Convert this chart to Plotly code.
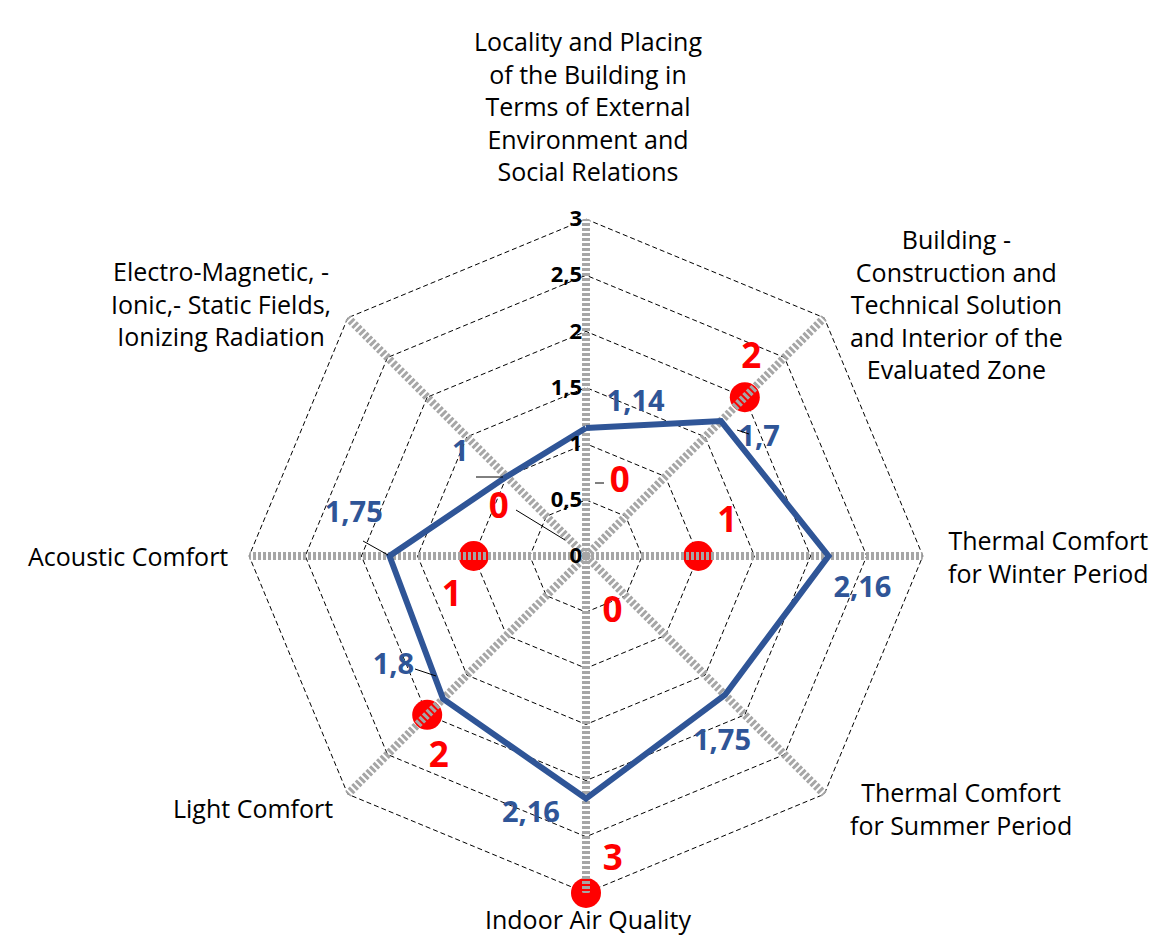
import plotly.graph_objects as go

categories = [
    "Locality and Placing<br>of the Building in<br>Terms of External<br>Environment and<br>Social Relations",
    "Building -<br>Construction and<br>Technical Solution<br>and Interior of the<br>Evaluated Zone",
    "Thermal Comfort<br>for Winter Period",
    "Thermal Comfort<br>for Summer Period",
    "Indoor Air Quality",
    "Light Comfort",
    "Acoustic Comfort",
    "Electro-Magnetic, -<br>Ionic,- Static Fields,<br>Ionizing Radiation",
]
blue_values = [1.14, 1.7, 2.16, 1.75, 2.16, 1.8, 1.75, 1]
red_values = [0, 2, 1, 0, 3, 2, 1, 0]
r_max = 3

# label placement (r, theta deg clockwise from top), layout only
blue_label_r = [1.43, 1.86, 2.48, 2.06, 2.36, 1.98, 2.10, 1.44]
blue_label_t = [18, 56, 97, 144, 192, 240, 280, 309]
red_label_r = [0.71, 2.29, 1.29, 0.56, 2.73, 2.23, 1.25, 0.88]
red_label_t = [25, 40, 77, 155, 175, 216, 253, 298]
# category label centres in pixels
cat_label_px = [(580, 98), (948, 296), (1040, 548), (953, 800),
                (580, 911), (245, 800), (120, 548), (213, 296)]
# thin leader lines (pixels)
leaders = [(508, 502, 557, 532), (468, 469, 495, 469), (355, 533, 380, 547),
           (729, 422, 741, 426), (407, 661, 428, 668), (587, 475, 596, 475)]

W, H = 1158, 938
blue = "#2f5597"
red = "#ff0000"
font = "Open Sans"
domain = dict(x=[240 / W, 916 / W], y=[52 / H, 728 / H])


def fmt(v):
    return f"{v:g}".replace(".", ",")


fig = go.Figure()

# red markers sit under the grey spokes
nz = [(c, v) for c, v in zip(categories, red_values) if v != 0]
fig.add_trace(go.Scatterpolar(
    r=[v for c, v in nz], theta=[c for c, v in nz], mode="markers",
    marker=dict(color=red, size=30),
    hoverinfo="skip", showlegend=False,
))

spoke_r, spoke_t = [], []
for c in categories:
    spoke_r += [0, r_max, None]
    spoke_t += [c, c, None]
fig.add_trace(go.Scatterpolar(
    r=spoke_r, theta=spoke_t, mode="lines",
    line=dict(color="#a6a6a6", width=8, dash="3px,2px"),
    hoverinfo="skip", showlegend=False,
))

z = [(c, v) for c, v in zip(categories, red_values) if v == 0]
fig.add_trace(go.Scatterpolar(
    r=[v for c, v in z], theta=[c for c, v in z], mode="markers",
    marker=dict(color=red, size=28, symbol="octagon-open-dot", line=dict(width=2, color=red)),
    hoverinfo="skip", showlegend=False,
))

fig.add_trace(go.Scatterpolar(
    r=blue_values + blue_values[:1], theta=categories + categories[:1], mode="lines",
    line=dict(color=blue, width=6),
    showlegend=False,
))

# value labels on an overlaid numeric polar
fig.add_trace(go.Scatterpolar(
    r=blue_label_r, theta=blue_label_t, mode="text", subplot="polar2",
    text=[fmt(v) for v in blue_values],
    textfont=dict(family=font, size=29, color=blue, weight="bold"),
    hoverinfo="skip", showlegend=False,
))
fig.add_trace(go.Scatterpolar(
    r=red_label_r, theta=red_label_t, mode="text", subplot="polar2",
    text=[fmt(v) for v in red_values],
    textfont=dict(family=font, size=35, color=red, weight="bold"),
    hoverinfo="skip", showlegend=False,
))

for label, (px, py) in zip(categories, cat_label_px):
    fig.add_annotation(
        x=px / W, y=1 - py / H, xref="paper", yref="paper",
        text=label, showarrow=False, align="center",
        xanchor="center", yanchor="middle",
        font=dict(family=font, size=25, color="black"),
    )

for x0, y0, x1, y1 in leaders:
    fig.add_shape(type="line", xref="paper", yref="paper",
                  x0=x0 / W, y0=1 - y0 / H, x1=x1 / W, y1=1 - y1 / H,
                  line=dict(color="black", width=1))

fig.update_layout(
    width=W, height=H,
    margin=dict(l=0, r=0, t=0, b=0),
    paper_bgcolor="white",
    separators=", ",
    polar=dict(
        domain=domain,
        bgcolor="white",
        gridshape="linear",
        angularaxis=dict(
            rotation=90, direction="clockwise",
            type="category", categoryorder="array", categoryarray=categories,
            showticklabels=False, showgrid=False, showline=False, ticks="",
        ),
        radialaxis=dict(
            range=[0, r_max + 0.01], dtick=0.5, angle=90, tickangle=90,
            side="counterclockwise",
            tickfont=dict(family=font, size=22, color="black", weight="bold"),
            showline=False, ticks="",
            gridcolor="black", gridwidth=1.3, griddash="5px,3px",
        ),
    ),
    polar2=dict(
        domain=domain,
        bgcolor="rgba(0,0,0,0)",
        angularaxis=dict(rotation=90, direction="clockwise", visible=False),
        radialaxis=dict(range=[0, r_max + 0.01], visible=False),
    ),
)

fig.write_html("out.html")
